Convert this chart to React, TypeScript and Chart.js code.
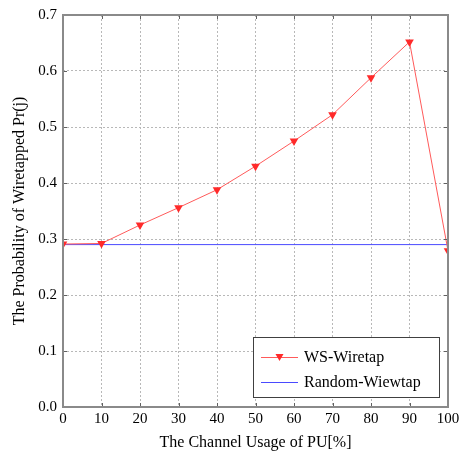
import React, { useEffect, useRef } from "react";
import { Chart, registerables } from "chart.js";

Chart.register(...registerables);

const xValues = [0, 10, 20, 30, 40, 50, 60, 70, 80, 90, 100];
const wsWiretap = [0.291, 0.292, 0.325, 0.356, 0.388, 0.43, 0.475, 0.522, 0.588, 0.652, 0.279];
const randomX = [0, 100];
const randomWiewtap = [0.29, 0.29];
const seriesNames = ["WS-Wiretap", "Random-Wiewtap"];
const xTitle = "The Channel Usage of PU[%]";
const yTitle = "The Probability of Wiretapped Pr(j)";

const FONT = '"Liberation Serif", "Times New Roman", serif';
const RED_LINE = "#ff5a5a";
const RED_MARK = "#ff2a2a";
const BLUE = "#4a4aff";

const framePlugin = {
  id: "frame",
  afterDatasetsDraw(chart: any) {
    const { ctx, chartArea: a, scales } = chart;
    ctx.save();
    // inward ticks
    ctx.strokeStyle = "#606060";
    ctx.lineWidth = 1;
    const tl = 4;
    scales.y.ticks.forEach((t: any) => {
      const y = Math.round(scales.y.getPixelForValue(t.value)) + 0.5;
      ctx.beginPath();
      ctx.moveTo(a.left, y);
      ctx.lineTo(a.left + tl, y);
      ctx.moveTo(a.right, y);
      ctx.lineTo(a.right - tl, y);
      ctx.stroke();
    });
    scales.x.ticks.forEach((t: any) => {
      const x = Math.round(scales.x.getPixelForValue(t.value)) + 0.5;
      ctx.beginPath();
      ctx.moveTo(x, a.top);
      ctx.lineTo(x, a.top + tl);
      ctx.moveTo(x, a.bottom);
      ctx.lineTo(x, a.bottom - tl);
      ctx.stroke();
    });
    // frame
    ctx.strokeStyle = "#8a8a8a";
    ctx.lineWidth = 2;
    ctx.strokeRect(a.left, a.top, a.right - a.left, a.bottom - a.top);

    // legend
    const bx = 253.5, by = 337.5, bw = 186, bh = 60;
    ctx.fillStyle = "#ffffff";
    ctx.fillRect(bx, by, bw, bh);
    ctx.strokeStyle = "#404040";
    ctx.lineWidth = 1;
    ctx.strokeRect(bx, by, bw, bh);
    const rows = [357, 382];
    const colors = [RED_LINE, BLUE];
    rows.forEach((ry, i) => {
      ctx.strokeStyle = colors[i];
      ctx.lineWidth = 1;
      ctx.beginPath();
      ctx.moveTo(261, ry + 0.5);
      ctx.lineTo(298, ry + 0.5);
      ctx.stroke();
      if (i === 0) {
        ctx.fillStyle = RED_MARK;
        ctx.beginPath();
        ctx.moveTo(275.5, ry - 3);
        ctx.lineTo(283.5, ry - 3);
        ctx.lineTo(279.5, ry + 4);
        ctx.closePath();
        ctx.fill();
      }
      ctx.fillStyle = "#000000";
      ctx.font = `16px ${FONT}`;
      ctx.textBaseline = "middle";
      ctx.textAlign = "left";
      ctx.fillText(seriesNames[i], 304, ry + 1);
    });
    ctx.restore();
  },
};

export default function App() {
  const ref = useRef<HTMLCanvasElement | null>(null);
  useEffect(() => {
    if (!ref.current) return;
    const chart = new Chart(ref.current, {
      type: "line",
      data: {
        datasets: [
          {
            label: seriesNames[0],
            data: xValues.map((x, i) => ({ x, y: wsWiretap[i] })),
            borderColor: RED_LINE,
            backgroundColor: RED_MARK,
            borderWidth: 1,
            pointStyle: "triangle",
            rotation: 180,
            pointRadius: 5,
            pointBorderWidth: 0,
            pointBackgroundColor: RED_MARK,
            pointBorderColor: RED_MARK,
            tension: 0,
          },
          {
            label: seriesNames[1],
            data: randomX.map((x, i) => ({ x, y: randomWiewtap[i] })),
            borderColor: BLUE,
            borderWidth: 1,
            pointRadius: 0,
            tension: 0,
          },
        ],
      },
      options: {
        animation: false,
        responsive: false,
        maintainAspectRatio: false,
        layout: { padding: { left: 0, top: 13, right: 18, bottom: 0 } },
        plugins: {
          legend: { display: false },
          tooltip: { enabled: false },
        },
        scales: {
          x: {
            type: "linear",
            min: 0,
            max: 100,
            afterFit: (s: any) => {
              s.height = 47;
            },
            ticks: {
              stepSize: 10,
              color: "#000",
              font: { family: FONT, size: 15 },
              padding: 3,
              maxRotation: 0,
            },
            grid: {
              color: "#b8b8b8",
              drawTicks: false,
              tickBorderDash: [2, 2],
            },
            border: { display: false, dash: [2, 2] },
            title: {
              display: true,
              text: xTitle,
              color: "#000",
              font: { family: FONT, size: 16 },
              padding: { top: 0, bottom: 2 },
            },
          },
          y: {
            min: 0,
            max: 0.7,
            afterFit: (s: any) => {
              s.width = 63;
            },
            ticks: {
              stepSize: 0.1,
              color: "#000",
              font: { family: FONT, size: 15 },
              padding: 6,
              callback: (v: any) => Number(v).toFixed(1),
            },
            grid: {
              color: "#b8b8b8",
              drawTicks: false,
            },
            border: { display: false, dash: [2, 2] },
            title: {
              display: true,
              text: yTitle,
              color: "#000",
              font: { family: FONT, size: 16 },
              padding: { top: 10, bottom: 0 },
            },
          },
        },
      },
      plugins: [framePlugin],
    } as any);
    return () => chart.destroy();
  }, []);
  return (
    <div style={{ position: "fixed", left: 0, top: 0, width: 466, height: 454, background: "#fff" }}>
      <canvas ref={ref} width={466} height={454} style={{ display: "block" }} />
    </div>
  );
}
